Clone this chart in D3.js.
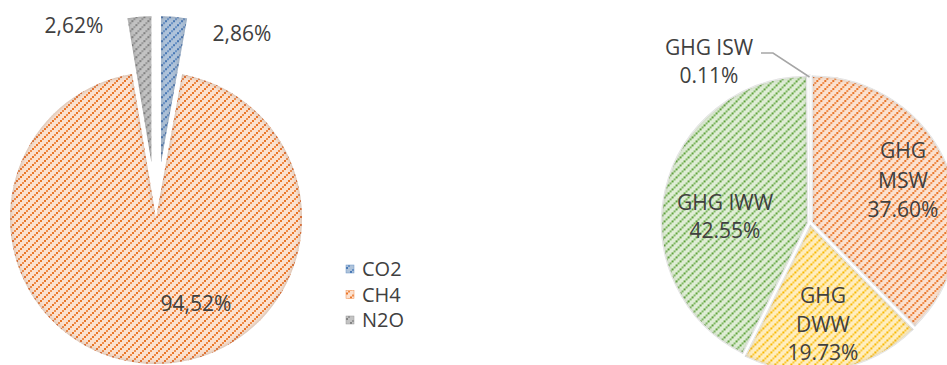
<!DOCTYPE html>
<html>
<head>
<meta charset="utf-8">
<script src="https://cdn.jsdelivr.net/npm/d3@7"></script>
<style>
  body { margin: 0; background: #fff; }
  svg { display: block; font-family: "Open Sans", sans-serif; }
</style>
</head>
<body>
<div id="chart"></div>
<script>
// left pie: gas shares
const gases = ["CO2", "CH4", "N2O"];
const gasValues = [2.86, 94.52, 2.62];
const gasLabels = ["2,86%", "94,52%", "2,62%"];
const gasExploded = [true, false, true];

// right pie: GHG by source
const sources = ["MSW", "DWW", "IWW", "ISW"];
const sourceValues = [37.60, 19.73, 42.55, 0.11];
const sourceLabels = [["GHG", "MSW", "37.60%"], ["GHG", "DWW", "19.73%"], ["GHG IWW", "42.55%"], ["GHG ISW", "0.11%"]];

const width = 947, height = 365;

// fill styles, Excel like dotted upward diagonal
const palette = {
  CO2: {bg: "#afc3da", dark: "#4677b4", mid: "#6a93c6"},
  CH4: {bg: "#fbe1cf", dark: "#ea7426", mid: "#f08d4c"},
  N2O: {bg: "#c3c3c3", dark: "#828282", mid: "#999999"},
  MSW: {bg: "#fbe1cf", dark: "#ea7426", mid: "#f08d4c"},
  DWW: {bg: "#ffeebf", dark: "#f8b800", mid: "#fcc83a"},
  IWW: {bg: "#dfedd5", dark: "#5fa33b", mid: "#7fb862"},
  ISW: {bg: "#dfe8f3", dark: "#5b9bd5", mid: "#8db7e0"}
};

const svg = d3.select("#chart").append("svg")
  .attr("width", width)
  .attr("height", height);

const defs = svg.append("defs");

Object.keys(palette).forEach(k => {
  let c = palette[k];
  let p = defs.append("pattern")
    .attr("id", "pat-" + k)
    .attr("patternUnits", "userSpaceOnUse")
    .attr("width", 8).attr("height", 8);
  p.append("rect").attr("width", 8).attr("height", 8).attr("fill", c.bg);
  [[0, 6], [2, 4], [4, 2], [6, 0]].forEach((q, i) => {
    p.append("rect")
      .attr("x", q[0]).attr("y", q[1])
      .attr("width", 2).attr("height", 2)
      .attr("fill", i % 2 ? c.mid : c.dark);
  });
});

// soft inner shadow on the slices
let f = defs.append("filter").attr("id", "soft")
  .attr("x", "-5%").attr("y", "-5%").attr("width", "110%").attr("height", "110%");
f.append("feFlood").attr("flood-color", "#6b6b6b").attr("flood-opacity", 0.6).attr("result", "col");
f.append("feComposite").attr("in", "col").attr("in2", "SourceAlpha").attr("operator", "out").attr("result", "outside");
f.append("feGaussianBlur").attr("in", "outside").attr("stdDeviation", 2.4).attr("result", "blur");
f.append("feComposite").attr("in", "blur").attr("in2", "SourceAlpha").attr("operator", "in").attr("result", "inner");
let m = f.append("feMerge");
m.append("feMergeNode").attr("in", "SourceGraphic");
m.append("feMergeNode").attr("in", "inner");

const pie = d3.pie().sort(null).value(d => d.value);

function offset(d, dist) {
  let a = (d.startAngle + d.endAngle) / 2;
  return [Math.sin(a) * dist, -Math.cos(a) * dist];
}

// ---- left pie ----
const left = {cx: 156, cy: 218, r: 146};
const leftData = pie(gases.map((g, i) => ({key: g, value: gasValues[i], exploded: gasExploded[i]})));
const arcL = d3.arc().innerRadius(0).outerRadius(left.r);

const gL = svg.append("g").attr("transform", `translate(${left.cx},${left.cy})`);
gL.selectAll("path.slice")
  .data(leftData)
  .join("path")
  .attr("class", "slice")
  .attr("d", arcL)
  .attr("transform", d => {
    let o = offset(d, d.data.exploded ? 56 : 0);
    return `translate(${o[0]},${o[1]})`;
  })
  .attr("fill", d => `url(#pat-${d.data.key})`)
  .attr("filter", "url(#soft)");

// left labels (placed like the excel outside/inside labels)
const leftLabelPos = {CO2: [86, -177], CH4: [40, 93], N2O: [-82, -185]};
gL.selectAll("text.lbl")
  .data(leftData)
  .join("text")
  .attr("class", "lbl")
  .attr("x", d => leftLabelPos[d.data.key][0])
  .attr("y", d => leftLabelPos[d.data.key][1])
  .attr("text-anchor", "middle")
  .attr("font-size", 21)
  .attr("fill", "#404040")
  .text((d, i) => gasLabels[i]);

// legend
const legend = svg.append("g").attr("transform", "translate(346,269)");
const li = legend.selectAll("g")
  .data(gases)
  .join("g")
  .attr("transform", (d, i) => `translate(0,${i * 25.5})`);
li.append("rect")
  .attr("x", 0).attr("y", -4)
  .attr("width", 8).attr("height", 8)
  .attr("fill", d => `url(#pat-${d})`)
  .attr("stroke", d => palette[d].mid).attr("stroke-width", 0.5);
li.append("text")
  .attr("x", 16).attr("y", 7)
  .attr("font-size", 20)
  .attr("fill", "#404040")
  .text(d => d);

// ---- right pie ----
const right = {cx: 810, cy: 223, r: 146};
const rightData = pie(sources.map((s, i) => ({key: s, value: sourceValues[i]})));
const arcR = d3.arc().innerRadius(0).outerRadius(right.r);

const gR = svg.append("g").attr("transform", `translate(${right.cx},${right.cy})`);
gR.selectAll("path.slice")
  .data(rightData)
  .join("path")
  .attr("class", "slice")
  .attr("d", arcR)
  .attr("transform", d => {
    let o = offset(d, 2.5);
    return `translate(${o[0]},${o[1]})`;
  })
  .attr("fill", d => `url(#pat-${d.data.key})`)
  .attr("stroke", "#fff").attr("stroke-width", 1.2)
  .attr("filter", "url(#soft)");

// label positions relative to centre, first baseline, line step
const rightLabelPos = {MSW: [93, -65, 29.5], DWW: [13, 80, 28.5], IWW: [-85, -13, 28], ISW: [-101, -168, 28]};
const lblR = gR.selectAll("text.lbl")
  .data(rightData)
  .join("text")
  .attr("class", "lbl")
  .attr("text-anchor", "middle")
  .attr("font-size", 21)
  .attr("fill", "#404040");
lblR.selectAll("tspan")
  .data((d, i) => sourceLabels[i].map(t => ({t, k: d.data.key})))
  .join("tspan")
  .attr("x", d => rightLabelPos[d.k][0])
  .attr("y", (d, j) => rightLabelPos[d.k][1] + j * rightLabelPos[d.k][2])
  .text(d => d.t);

// leader line for the tiny slice
const isw = rightData[3];
const midA = (isw.startAngle + isw.endAngle) / 2;
const edge = [Math.sin(midA) * right.r, -Math.cos(midA) * right.r];
gR.append("polyline")
  .attr("points", [[-49, -170], [-37, -170], [edge[0], edge[1]]].map(p => p.join(",")).join(" "))
  .attr("fill", "none")
  .attr("stroke", "#a6a6a6")
  .attr("stroke-width", 1.5);
</script>
</body>
</html>
